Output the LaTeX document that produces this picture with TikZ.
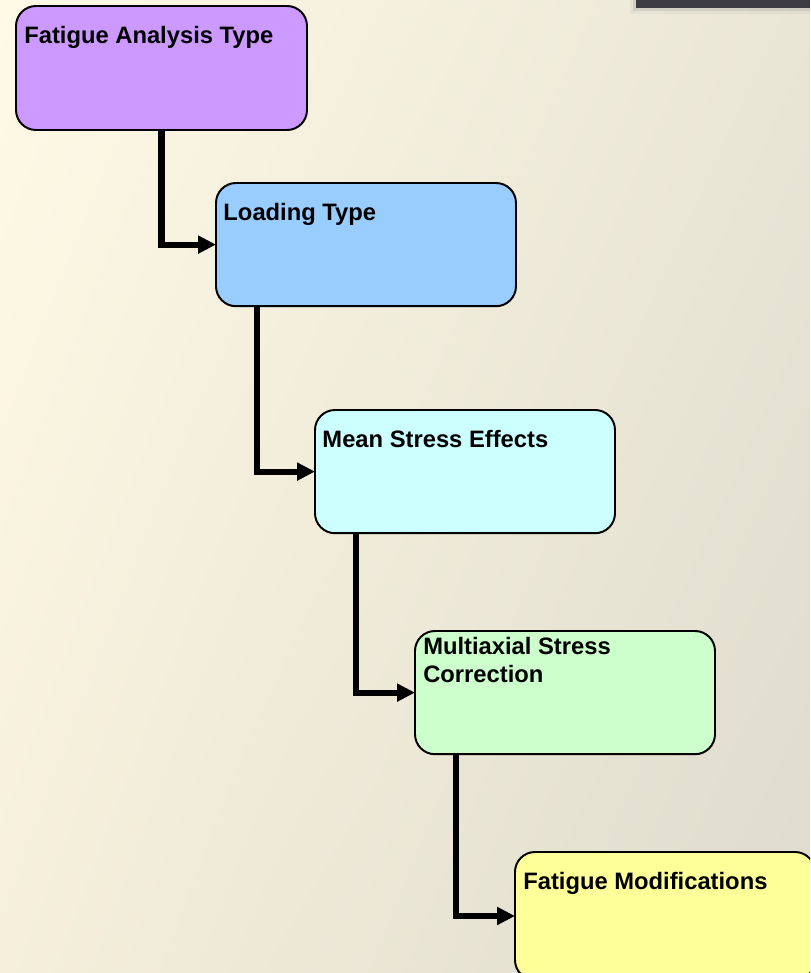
\documentclass[tikz,border=0pt]{standalone}
\usepackage{fontspec}
\usepackage{xcolor}
\usetikzlibrary{arrows.meta,shadings}

\newfontfamily\boxfont{Liberation Sans}

\definecolor{bgtl}{RGB}{255,250,230}
\definecolor{bgtr}{RGB}{234,230,214}
\definecolor{bgbl}{RGB}{245,239,219}
\definecolor{bgbr}{RGB}{222,219,205}
\definecolor{darkbar}{RGB}{60,58,66}
\definecolor{typefill}{RGB}{204,153,255}
\definecolor{loadfill}{RGB}{153,204,255}
\definecolor{meanfill}{RGB}{204,255,255}
\definecolor{multifill}{RGB}{204,255,204}
\definecolor{modsfill}{RGB}{255,255,153}

\begin{document}
\begin{tikzpicture}[
        stagebox/.style={draw=black,line width=1.4pt,rounded corners=0.5cm,anchor=north west,
            minimum width=7.5cm,minimum height=3.08cm,inner sep=0pt,outer sep=0pt},
        stagetext/.style={anchor=north west,inner sep=0pt,align=left,
            font=\boxfont\bfseries\fontsize{16.9}{19.9}\selectfont},
        link/.style={line width=4.3pt,-{Triangle[length=0.45cm,width=0.43cm]}}
    ]

        % Background
        \useasboundingbox (0,0) rectangle (20.25,-24.325);
        \clip (0,0) rectangle (20.25,-24.325);
        \shade[upper left=bgtl,upper right=bgtr,lower left=bgbl,lower right=bgbr]
            (0,0) rectangle (20.25,-24.325);
        \fill[black!30,opacity=0.15] (15.75,0) rectangle (20.25,-0.34);
        \fill[black!40,opacity=0.25] (15.82,0) rectangle (20.25,-0.27);
        \fill[darkbar] (15.9,0) rectangle (20.25,-0.2);

        % Boxes
        \node[stagebox,fill=typefill,minimum width=7.275cm,minimum height=3.1cm] (type) at (0.4,-0.15) {};
        \node[stagebox,fill=loadfill] (load) at (5.4,-4.575) {};
        \node[stagebox,fill=meanfill] (mean) at (7.875,-10.25) {};
        \node[stagebox,fill=multifill] (multi) at (10.375,-15.775) {};
        \node[stagebox,fill=modsfill,minimum height=3.2cm] (mods) at (12.875,-21.3) {};

        % Labels
        \node[stagetext] (type-txt) at ([shift={(0.2,-0.5)}]type.north west) {Fatigue Analysis Type};
        \node[stagetext] (load-txt) at ([shift={(0.18,-0.5)}]load.north west) {Loading Type};
        \node[stagetext] (mean-txt) at ([shift={(0.18,-0.5)}]mean.north west) {Mean Stress Effects};
        \node[stagetext] (multi-txt) at ([shift={(0.2,-0.15)}]multi.north west) {Multiaxial Stress\\Correction};
        \node[stagetext] (mods-txt) at ([shift={(0.2,-0.5)}]mods.north west) {Fatigue Modifications};

        % Connectors
        \draw[link] (type.south) |- (load.west);
        \foreach \from/\to in {load/mean,mean/multi,multi/mods} {
            \draw[link] ([xshift=1.025cm]\from.south west) |- (\to.west);
        }

    \end{tikzpicture}
\end{document}
